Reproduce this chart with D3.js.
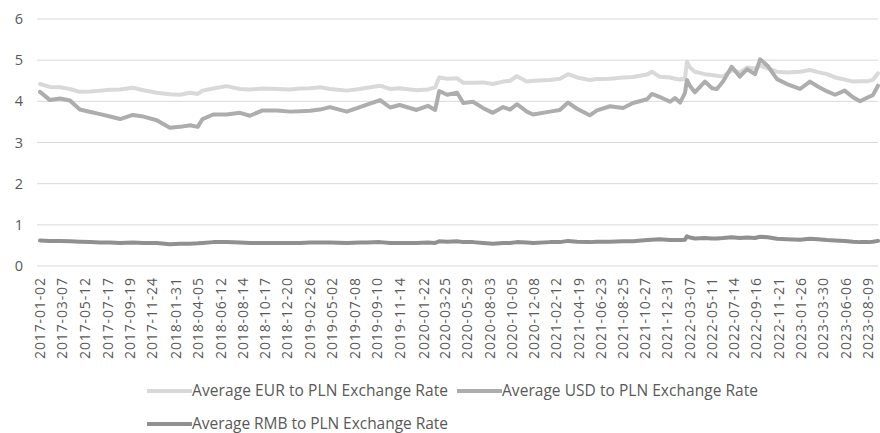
<!DOCTYPE html>
<html>
<head>
<meta charset="utf-8">
<script src="https://cdn.jsdelivr.net/npm/d3@7"></script>
<style>
  html, body { margin: 0; padding: 0; background: #fff; }
  svg { display: block; }
  text { font-family: "Open Sans", sans-serif; fill: #595959; }
</style>
</head>
<body>
<svg id="chart" width="880" height="433"></svg>
<script>
const dates = [
  "2017-01-02","2017-01-31","2017-03-01","2017-03-30","2017-04-28","2017-05-29","2017-06-26","2017-07-25","2017-08-23","2017-09-29",
  "2017-10-30","2017-12-08","2018-01-15","2018-02-13","2018-03-15","2018-04-06","2018-04-20","2018-05-21","2018-06-29","2018-08-07",
  "2018-09-05","2018-10-12","2018-11-23","2018-12-31","2019-01-29","2019-02-27","2019-03-28","2019-04-26","2019-06-14","2019-07-22",
  "2019-08-12","2019-09-19","2019-10-18","2019-11-15","2020-01-03","2020-02-05","2020-02-26","2020-03-09","2020-04-01","2020-04-30",
  "2020-05-18","2020-06-15","2020-07-14","2020-08-12","2020-09-11","2020-10-01","2020-10-21","2020-11-19","2020-12-07","2021-01-25",
  "2021-02-23","2021-03-19","2021-04-14","2021-05-21","2021-06-11","2021-07-19","2021-08-26","2021-09-24","2021-11-04","2021-11-18",
  "2021-12-10","2022-01-10","2022-01-24","2022-02-08","2022-02-22","2022-02-28","2022-03-09","2022-03-23","2022-04-21","2022-05-12",
  "2022-05-26","2022-06-13","2022-07-08","2022-08-01","2022-08-22","2022-09-14","2022-09-29","2022-10-21","2022-11-17","2022-12-16",
  "2023-01-23","2023-02-21","2023-03-16","2023-04-12","2023-05-05","2023-06-02","2023-06-26","2023-07-17","2023-08-09","2023-08-23",
  "2023-09-07"
];
const eurPln = [
  4.42,4.35,4.34,4.30,4.23,4.24,4.26,4.28,4.29,4.33,
  4.27,4.21,4.17,4.16,4.21,4.18,4.26,4.31,4.37,4.30,
  4.29,4.31,4.30,4.29,4.31,4.32,4.34,4.30,4.26,4.30,
  4.33,4.38,4.30,4.32,4.27,4.29,4.34,4.58,4.55,4.56,
  4.45,4.45,4.46,4.42,4.48,4.50,4.61,4.48,4.50,4.52,
  4.55,4.66,4.58,4.52,4.54,4.55,4.58,4.59,4.65,4.72,
  4.60,4.58,4.55,4.53,4.55,4.96,4.82,4.72,4.66,4.64,
  4.62,4.60,4.76,4.70,4.82,4.80,4.87,4.80,4.72,4.70,
  4.72,4.76,4.71,4.66,4.58,4.53,4.48,4.49,4.49,4.52,
  4.68
];
const usdPln = [
  4.23,4.03,4.07,4.02,3.80,3.74,3.69,3.63,3.57,3.67,
  3.63,3.54,3.36,3.38,3.42,3.38,3.57,3.68,3.68,3.72,
  3.65,3.78,3.78,3.75,3.76,3.77,3.80,3.86,3.75,3.86,
  3.92,4.03,3.85,3.91,3.79,3.89,3.79,4.25,4.16,4.21,
  3.96,3.99,3.84,3.72,3.86,3.80,3.93,3.75,3.68,3.75,
  3.79,3.97,3.82,3.66,3.78,3.88,3.84,3.96,4.05,4.18,
  4.11,3.99,4.08,3.97,4.20,4.52,4.37,4.22,4.48,4.32,
  4.30,4.48,4.84,4.60,4.78,4.66,5.02,4.86,4.54,4.42,
  4.30,4.48,4.36,4.24,4.16,4.26,4.10,4.00,4.10,4.15,
  4.38
];
const rmbPln = [
  0.62,0.61,0.61,0.60,0.59,0.58,0.57,0.57,0.56,0.57,
  0.56,0.56,0.53,0.54,0.54,0.55,0.56,0.58,0.58,0.57,
  0.56,0.56,0.56,0.56,0.56,0.57,0.57,0.57,0.56,0.57,
  0.57,0.58,0.56,0.56,0.56,0.57,0.56,0.60,0.59,0.60,
  0.58,0.58,0.56,0.54,0.56,0.56,0.58,0.57,0.56,0.58,
  0.58,0.61,0.59,0.58,0.59,0.59,0.60,0.60,0.63,0.64,
  0.65,0.63,0.63,0.63,0.64,0.72,0.69,0.67,0.68,0.67,
  0.67,0.68,0.70,0.68,0.69,0.68,0.71,0.70,0.66,0.65,
  0.64,0.66,0.65,0.63,0.62,0.61,0.59,0.58,0.58,0.59,
  0.61
];
const tickLabels = [
  "2017-01-02","2017-03-07","2017-05-12","2017-07-17","2017-09-19","2017-11-24","2018-01-31","2018-04-05",
  "2018-06-12","2018-08-14","2018-10-17","2018-12-20","2019-02-26","2019-05-02","2019-07-08","2019-09-10",
  "2019-11-14","2020-01-22","2020-03-25","2020-05-29","2020-08-03","2020-10-05","2020-12-08","2021-02-12",
  "2021-04-19","2021-06-23","2021-08-25","2021-10-27","2021-12-31","2022-03-07","2022-05-11","2022-07-14",
  "2022-09-16","2022-11-21","2023-01-26","2023-03-30","2023-06-06","2023-08-09"
];
const yTicks = [0, 1, 2, 3, 4, 5, 6];
const seriesNames = [
  "Average EUR to PLN Exchange Rate",
  "Average USD to PLN Exchange Rate",
  "Average RMB to PLN Exchange Rate"
];
const seriesColors = ["#d9d9d9", "#adadad", "#909090"];

const parse = d3.utcParse("%Y-%m-%d");
const fmt = d3.utcFormat("%Y-%m-%d");
const svg = d3.select("#chart");

const plotLeft = 37, plotRight = 878, plotTop = 19, plotBottom = 266;
const x = d3.scaleUtc()
  .domain([parse("2017-01-02"), parse("2023-09-07")])
  .range([40, 878]);
const y = d3.scaleLinear().domain([0, 6]).range([plotBottom, plotTop]);

// gridlines
svg.append("g").selectAll("line").data(yTicks).join("line")
  .attr("x1", plotLeft).attr("x2", plotRight)
  .attr("y1", d => y(d)).attr("y2", d => y(d))
  .attr("stroke", "#d9d9d9").attr("stroke-width", 1);

// y axis labels
const yAxis = d3.axisLeft(y).tickValues(yTicks).tickSize(0).tickPadding(0).tickFormat(d3.format("d"));
const gy = svg.append("g").attr("transform", "translate(23,0)").call(yAxis);
gy.select(".domain").remove();
gy.selectAll("text").attr("font-size", 14.5).attr("font-family", "Open Sans, sans-serif").attr("fill", "#595959");

// x axis labels
const xAxis = d3.axisBottom(x).tickValues(tickLabels.map(parse)).tickSize(0).tickFormat(fmt);
const gx = svg.append("g").attr("transform", `translate(0,${plotBottom})`).call(xAxis);
gx.select(".domain").remove();
gx.selectAll("text")
  .attr("font-size", 14)
  .attr("textLength", 81)
  .attr("lengthAdjust", "spacing")
  .attr("font-family", "Open Sans, sans-serif")
  .attr("fill", "#595959")
  .attr("transform", "rotate(-90)")
  .attr("text-anchor", "end")
  .attr("x", -12)
  .attr("y", 0)
  .attr("dy", "0.35em");

// lines
const all = [eurPln, usdPln, rmbPln];
const line = d3.line()
  .x((d, i) => x(parse(dates[i])))
  .y(d => y(d));
all.forEach((vals, k) => {
  svg.append("path")
    .datum(vals)
    .attr("fill", "none")
    .attr("stroke", seriesColors[k])
    .attr("stroke-width", 4)
    .attr("stroke-linejoin", "round")
    .attr("stroke-linecap", "round")
    .attr("d", line);
});

// legend
const legendItems = [
  { name: seriesNames[0], color: seriesColors[0], lx: 147, ly: 391 },
  { name: seriesNames[1], color: seriesColors[1], lx: 457, ly: 391 },
  { name: seriesNames[2], color: seriesColors[2], lx: 147, ly: 424 }
];
const lg = svg.append("g");
legendItems.forEach(it => {
  lg.append("line")
    .attr("x1", it.lx).attr("x2", it.lx + 45)
    .attr("y1", it.ly).attr("y2", it.ly)
    .attr("stroke", it.color).attr("stroke-width", 4);
  lg.append("text")
    .attr("x", it.lx + 45).attr("y", it.ly)
    .attr("dy", "0.35em")
    .attr("font-size", 15.5)
    .attr("textLength", 256)
    .attr("lengthAdjust", "spacing")
    .attr("font-family", "Open Sans, sans-serif")
    .attr("fill", "#595959")
    .text(it.name);
});
</script>
</body>
</html>
